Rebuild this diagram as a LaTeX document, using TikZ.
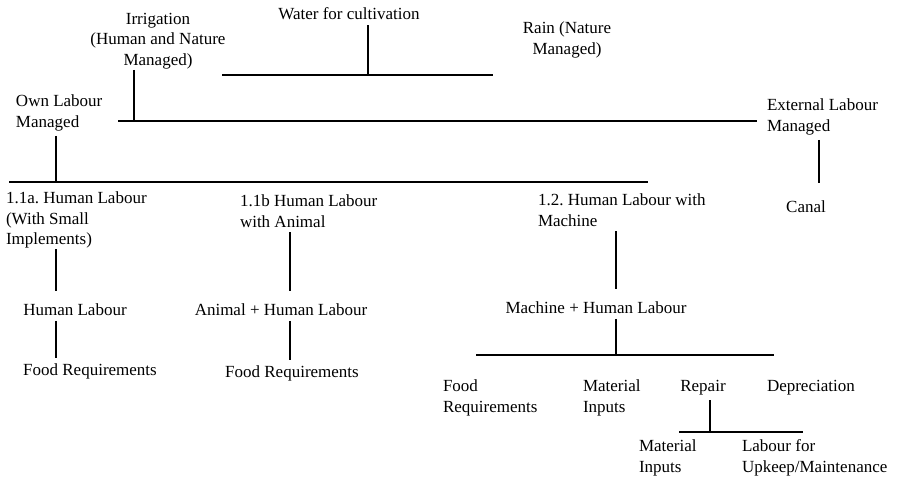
\documentclass[tikz,border=0pt]{standalone}
\usepackage{fontspec}
\setmainfont{Liberation Serif}
\usetikzlibrary{positioning}
\frenchspacing

\begin{document}
\begin{tikzpicture}[x=1pt,y=-1pt,
  font={\fontsize{17}{20.5}\selectfont},
  lbl/.style={inner sep=0pt,outer sep=5pt,align=left,anchor=west},
  ctr/.style={inner sep=0pt,outer sep=5pt,align=center},
  link/.style={line width=2pt,draw=black}]
  \useasboundingbox (0,0) rectangle (898,482);

  % top of the tree
  \node[ctr] (water) at (349,14) {Water for cultivation};
  \node[ctr] (irr) at (158,41) {Irrigation\\(Human and Nature\\Managed)};
  \node[ctr] (rain) at (567,40) {Rain (Nature\\Managed)};
  \node[lbl] (own) at (11,113) {Own Labour\\Managed};
  \node[lbl] (ext) at (762,117) {External Labour\\Managed};
  \node[ctr] (canal) at (806,207) {Canal};

  % labour types
  \node[lbl] (h11a) at (1,220) {1.1a. Human Labour\\(With Small\\Implements)};
  \node[lbl] (h11b) at (235,211) {1.1b Human Labour\\with Animal};
  \node[lbl] (h12) at (533,210) {1.2. Human Labour with\\Machine};
  \node[ctr] (hl) at (75,310) {Human Labour};
  \node[ctr] (fr1) at (90,371) {Food Requirements};
  \node[ctr] (ahl) at (281,310) {Animal + Human Labour};
  \node[ctr] (fr2) at (292,373) {Food Requirements};
  \node[ctr] (mhl) at (596,308) {Machine + Human Labour};

  % machine costs
  \node[lbl] (fr3) at (438,398) {Food\\Requirements};
  \node[lbl] (mi1) at (578,398) {Material\\Inputs};
  \node[ctr] (rep) at (703,388) {Repair};
  \node[lbl] (dep) at (762,388) {Depreciation};
  \node[lbl] (mi2) at (634,458) {Material\\Inputs};
  \node[lbl] (lab) at (737,458) {Labour for\\Upkeep/Maintenance};

  % bars and junctions
  \coordinate (b1l) at (222,75);  \coordinate (b1r) at (493,75);  \coordinate (wj) at (368,75);
  \coordinate (b2l) at (118,121); \coordinate (b2r) at (757,121); \coordinate (irj) at (134,121);
  \coordinate (b3l) at (9,182);   \coordinate (b3r) at (648,182); \coordinate (ownj) at (56,182);
  \coordinate (b4l) at (476,355); \coordinate (b4r) at (774,355); \coordinate (mj) at (616,355);
  \coordinate (b5l) at (679,432); \coordinate (b5r) at (803,432); \coordinate (rj) at (710,432);
  \coordinate (cA) at (56,0);
  \coordinate (cB) at (290,0);
  \coordinate (cC) at (616,0);
  \coordinate (cD) at (819,0);

  \draw[link] (b1l) -- (b1r);
  \draw[link] (water.south -| wj) -- (wj);
  \draw[link] (b2l) -- (b2r);
  \draw[link] ([yshift=4pt]irr.south -| irj) -- (irj);
  \draw[link] (b3l) -- (b3r);
  \draw[link] (own.south -| ownj) -- (ownj);
  \draw[link] (ext.south -| cD) -- ([yshift=13pt]canal.north -| cD);

  \draw[link] ([yshift=4pt]h11a.south -| cA) -- ([yshift=8pt]hl.north -| cA);
  \draw[link] (hl.south -| cA) -- (fr1.north -| cA);
  \draw[link] (h11b.south -| cB) -- ([yshift=8pt]ahl.north -| cB);
  \draw[link] (ahl.south -| cB) -- (fr2.north -| cB);
  \draw[link] (h12.south -| cC) -- ([yshift=8pt]mhl.north -| cC);
  \draw[link] (mhl.south -| mj) -- (mj);
  \draw[link] (b4l) -- (b4r);
  \draw[link] (rep.south -| rj) -- (rj);
  \draw[link] (b5l) -- (b5r);
\end{tikzpicture}
\end{document}
